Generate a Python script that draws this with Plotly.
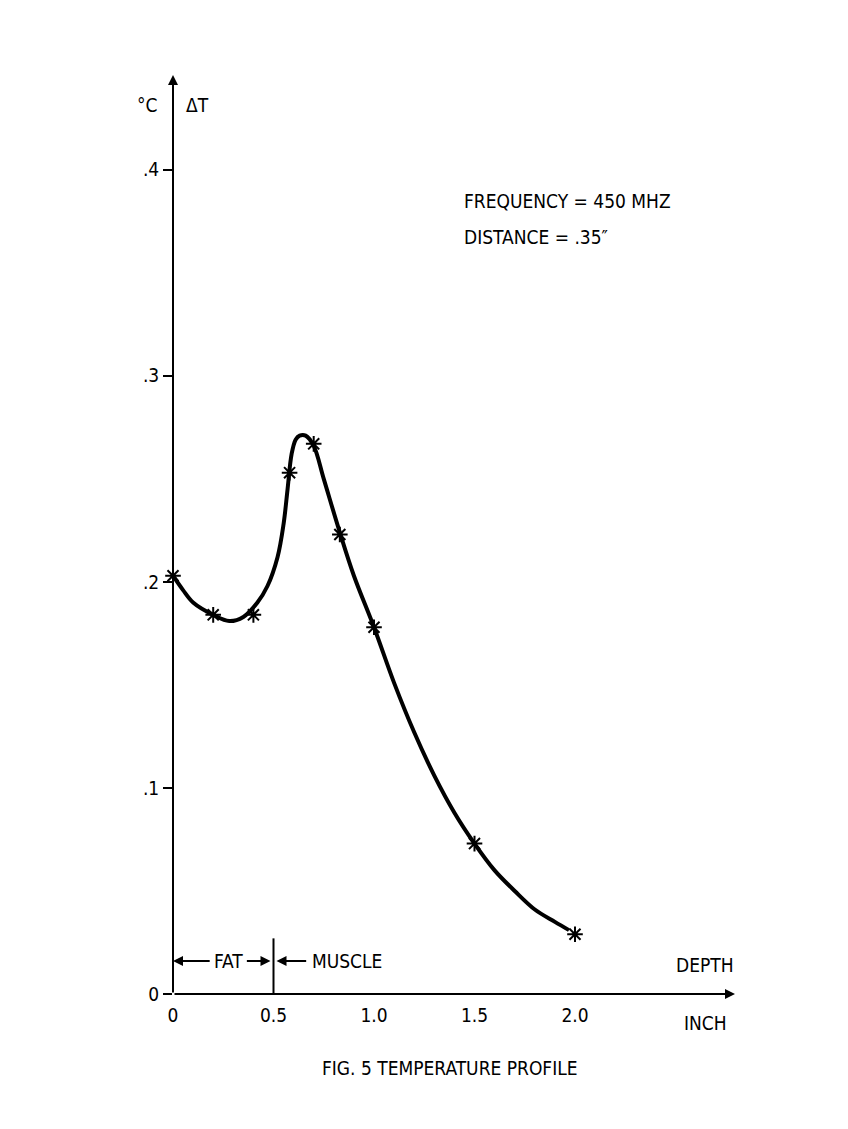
import plotly.graph_objects as go

pts_x = [0, 0.2, 0.4, 0.58, 0.7, 0.83, 1.0, 1.5, 2.0]
pts_y = [0.203, 0.184, 0.184, 0.253, 0.267, 0.223, 0.178, 0.073, 0.029]
curve_x = [0, 0.05, 0.1, 0.2, 0.28, 0.35, 0.42, 0.47, 0.52, 0.55, 0.57, 0.59, 0.61, 0.63, 0.66, 0.70, 0.75, 0.83, 0.9, 1.0,
           1.1, 1.2, 1.3, 1.4, 1.5, 1.6, 1.7, 1.8, 1.9, 1.97]
curve_y = [0.203, 0.196, 0.190, 0.184, 0.181, 0.183, 0.190, 0.198, 0.212, 0.228, 0.245, 0.262, 0.269, 0.271, 0.271, 0.266, 0.250, 0.224, 0.203, 0.178,
           0.151, 0.127, 0.106, 0.088, 0.073, 0.060, 0.050, 0.041, 0.035, 0.031]
ytick_vals = [0, 0.1, 0.2, 0.3, 0.4]
ytick_text = ["0", ".1", ".2", ".3", ".4"]
xtick_vals = [0, 0.5, 1.0, 1.5, 2.0]
xtick_text = ["0", "0.5", "1.0", "1.5", "2.0"]

F = "Liberation Sans Narrow, DejaVu Sans Condensed, sans-serif"
fig = go.Figure()
fig.add_trace(go.Scatter(x=curve_x, y=curve_y, mode="lines", line=dict(color="black", width=4, shape="spline"),
                         showlegend=False))
fig.add_trace(go.Scatter(x=pts_x, y=pts_y, mode="markers",
                         marker=dict(symbol="asterisk-open", size=13, color="black", line=dict(width=2, color="black")),
                         showlegend=False, cliponaxis=False))
fig.update_layout(
    width=848, height=1129, paper_bgcolor="white", plot_bgcolor="white",
    margin=dict(l=165, r=121, t=67, b=143),
    font=dict(family=F, size=19, color="black"),
    xaxis=dict(range=[0, 2.796], showgrid=False, zeroline=False, showline=False,
               tickvals=xtick_vals, ticktext=xtick_text, ticks="outside", ticklen=4, tickcolor="white"),
    yaxis=dict(range=[0, 0.446], showgrid=False, zeroline=False, showline=False,
               tickvals=ytick_vals, ticktext=ytick_text, ticks="outside", ticklen=9, tickwidth=2, tickcolor="black"),
)
def arrow(x, y, ax, ay):
    fig.add_annotation(x=x, y=y, ax=ax, ay=ay, xref="x", yref="y", axref="x", ayref="y",
                       showarrow=True, arrowhead=2, arrowsize=1, arrowwidth=2, arrowcolor="black", text="")
arrow(2.796, 0, 0, 0)
arrow(0, 0.446, 0, 0)
fig.add_shape(type="line", x0=0.5, x1=0.5, y0=-0.010, y1=0.027, line=dict(color="black", width=2))
y_fm = 0.016
arrow(0, y_fm, 0.19, y_fm)
arrow(0.485, y_fm, 0.36, y_fm)
arrow(0.515, y_fm, 0.67, y_fm)
fig.add_annotation(x=0.275, y=y_fm, xref="x", yref="y", text="FAT", showarrow=False)
fig.add_annotation(x=0.68, y=y_fm, xref="x", yref="y", text="MUSCLE", showarrow=False, xanchor="left")
texts = [
    (147, 105, "°C", "center"), (197, 105, "ΔT", "center"),
    (462, 201, "FREQUENCY = 450 MHZ", "left"), (462, 237, "DISTANCE = .35″", "left"),
    (705, 965, "DEPTH", "center"), (705, 1023, "INCH", "center"),
    (450, 1068, "FIG. 5 TEMPERATURE PROFILE", "center"),
]
for px, py, t, anc in texts:
    fig.add_annotation(x=(px - 173) / 562, y=(994 - py) / 919, xref="paper", yref="paper", text=t,
                       showarrow=False, xanchor=anc, yanchor="middle")
fig.write_html("out.html")
